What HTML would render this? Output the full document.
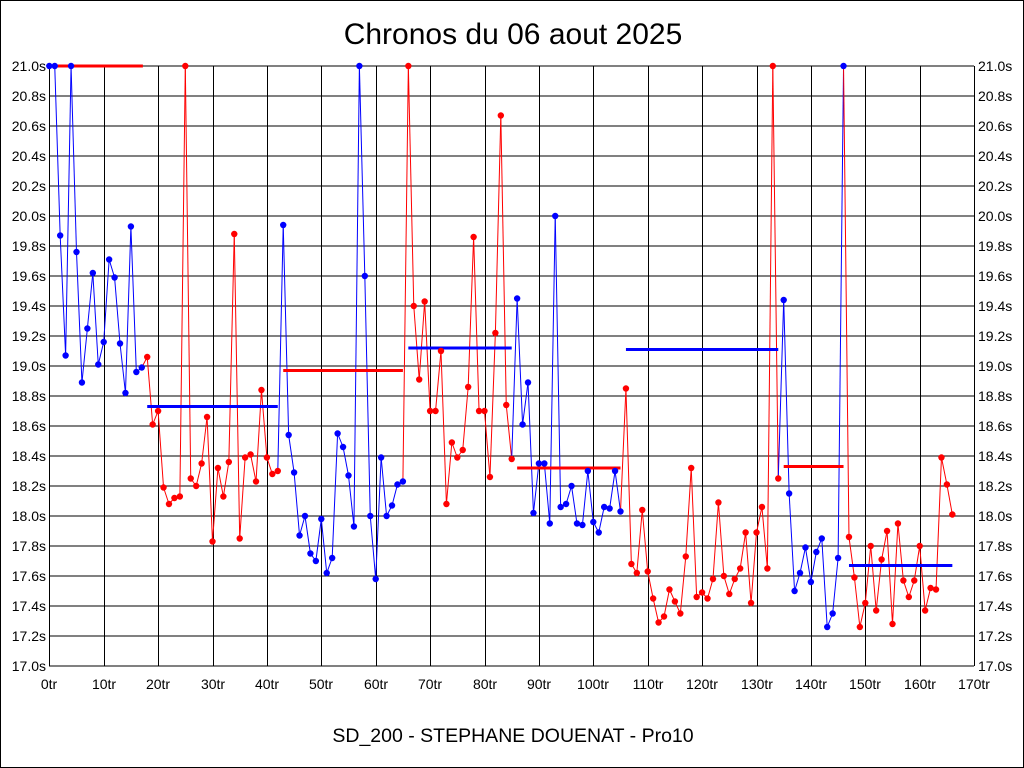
<!DOCTYPE html>
<html><head><meta charset="utf-8"><style>
html,body{margin:0;padding:0;background:#fff;}
svg{display:block;}
text{font-family:"Liberation Sans",sans-serif;}
</style></head><body>
<svg id="s" width="1024" height="768" xmlns="http://www.w3.org/2000/svg">
<rect x="0.5" y="0.5" width="1023" height="767" fill="#fff" stroke="#000"/>
<text x="513" y="44" font-size="30" text-anchor="middle">Chronos du 06 aout 2025</text>
<text x="513" y="742" font-size="19.5" text-anchor="middle">SD_200 - STEPHANE DOUENAT - Pro10</text>
<g id="grid" stroke="#000" stroke-width="1"></g>
<g font-size="14" text-anchor="end">
<text x="46" y="71">21.0s</text><text x="46" y="101">20.8s</text><text x="46" y="131">20.6s</text><text x="46" y="161">20.4s</text><text x="46" y="191">20.2s</text><text x="46" y="221">20.0s</text><text x="46" y="251">19.8s</text><text x="46" y="281">19.6s</text><text x="46" y="311">19.4s</text><text x="46" y="341">19.2s</text><text x="46" y="371">19.0s</text><text x="46" y="401">18.8s</text><text x="46" y="431">18.6s</text><text x="46" y="461">18.4s</text><text x="46" y="491">18.2s</text><text x="46" y="521">18.0s</text><text x="46" y="551">17.8s</text><text x="46" y="581">17.6s</text><text x="46" y="611">17.4s</text><text x="46" y="641">17.2s</text><text x="46" y="671">17.0s</text>
</g>
<g font-size="14" text-anchor="start">
<text x="978" y="71">21.0s</text><text x="978" y="101">20.8s</text><text x="978" y="131">20.6s</text><text x="978" y="161">20.4s</text><text x="978" y="191">20.2s</text><text x="978" y="221">20.0s</text><text x="978" y="251">19.8s</text><text x="978" y="281">19.6s</text><text x="978" y="311">19.4s</text><text x="978" y="341">19.2s</text><text x="978" y="371">19.0s</text><text x="978" y="401">18.8s</text><text x="978" y="431">18.6s</text><text x="978" y="461">18.4s</text><text x="978" y="491">18.2s</text><text x="978" y="521">18.0s</text><text x="978" y="551">17.8s</text><text x="978" y="581">17.6s</text><text x="978" y="611">17.4s</text><text x="978" y="641">17.2s</text><text x="978" y="671">17.0s</text>
</g>
<g font-size="14" text-anchor="middle">
<text x="49" y="689">0tr</text><text x="104" y="689">10tr</text><text x="158" y="689">20tr</text><text x="213" y="689">30tr</text><text x="267" y="689">40tr</text><text x="321" y="689">50tr</text><text x="376" y="689">60tr</text><text x="430" y="689">70tr</text><text x="485" y="689">80tr</text><text x="539" y="689">90tr</text><text x="593" y="689">100tr</text><text x="648" y="689">110tr</text><text x="702" y="689">120tr</text><text x="757" y="689">130tr</text><text x="811" y="689">140tr</text><text x="865" y="689">150tr</text><text x="920" y="689">160tr</text><text x="974" y="689">170tr</text>
</g>
<g id="data"></g>
</svg>
<script>
var NS="http://www.w3.org/2000/svg";
function X(i){return 49.3+i*5.44;}
function Y(v){return 66+(21-v)*150;}
function el(p,t,a){var e=document.createElementNS(NS,t);for(var k in a)e.setAttribute(k,a[k]);p.appendChild(e);return e;}
var g=document.getElementById('grid');
for(var k=0;k<=20;k++){var y=66+k*30;el(g,'line',{x1:49,x2:974,y1:y,y2:y});}
for(var k=0;k<=17;k++){var x=Math.round(X(k*10))+0.5;el(g,'line',{x1:x,x2:x,y1:66,y2:666});}
var v=[21,21,19.87,19.07,21,19.76,18.89,19.25,19.62,19.01,19.16,19.71,19.59,19.15,18.82,19.93,18.96,18.99,
19.06,18.61,18.70,18.19,18.08,18.12,18.13,21,18.25,18.20,18.35,18.66,17.83,18.32,18.13,18.36,19.88,17.85,18.39,18.41,18.23,18.84,18.39,18.28,18.30,
19.94,18.54,18.29,17.87,18.00,17.75,17.70,17.98,17.62,17.72,18.55,18.46,18.27,17.93,21,19.60,18.00,17.58,18.39,18.00,18.07,18.21,18.23,
21,19.40,18.91,19.43,18.70,18.70,19.10,18.08,18.49,18.39,18.44,18.86,19.86,18.70,18.70,18.26,19.22,20.67,18.74,18.38,
19.45,18.61,18.89,18.02,18.35,18.35,17.95,20.00,18.06,18.08,18.20,17.95,17.94,18.30,17.96,17.89,18.06,18.05,18.30,18.03,
18.85,17.68,17.62,18.04,17.63,17.45,17.29,17.33,17.51,17.43,17.35,17.73,18.32,17.46,17.49,17.45,17.58,18.09,17.60,17.48,17.58,17.65,17.89,17.42,17.89,18.06,17.65,21,18.25,
19.44,18.15,17.50,17.62,17.79,17.56,17.76,17.85,17.26,17.35,17.72,21,
17.86,17.59,17.26,17.42,17.80,17.37,17.71,17.90,17.28,17.95,17.57,17.46,17.57,17.80,17.37,17.52,17.51,18.39,18.21,18.01];
var groups=[[0,17,'#0000ff'],[18,42,'#ff0000'],[43,65,'#0000ff'],[66,85,'#ff0000'],[86,105,'#0000ff'],[106,134,'#ff0000'],[135,146,'#0000ff'],[147,166,'#ff0000']];
function col(i){for(var j=0;j<groups.length;j++)if(i>=groups[j][0]&&i<=groups[j][1])return groups[j][2];}
var d=document.getElementById('data');
var av=[[0.6,17.2,21.0,'#ff0000'],[18,42,18.73,'#0000ff'],[43,65,18.97,'#ff0000'],[66,85,19.12,'#0000ff'],[86,105,18.32,'#ff0000'],[106,134,19.11,'#0000ff'],[135,146,18.33,'#ff0000'],[147,166,17.67,'#0000ff']];
for(var i=0;i<v.length;i++){if(i>0)el(d,'line',{x1:X(i-1),y1:Y(v[i-1]),x2:X(i),y2:Y(v[i]),stroke:col(i),'stroke-width':1});}
av.forEach(function(a){el(d,'line',{x1:X(a[0]),x2:X(a[1]),y1:Y(a[2]),y2:Y(a[2]),stroke:a[3],'stroke-width':3});});
for(var i=0;i<v.length;i++)el(d,'circle',{cx:X(i),cy:Y(v[i]),r:3.2,fill:col(i)});
</script>
</body></html>
